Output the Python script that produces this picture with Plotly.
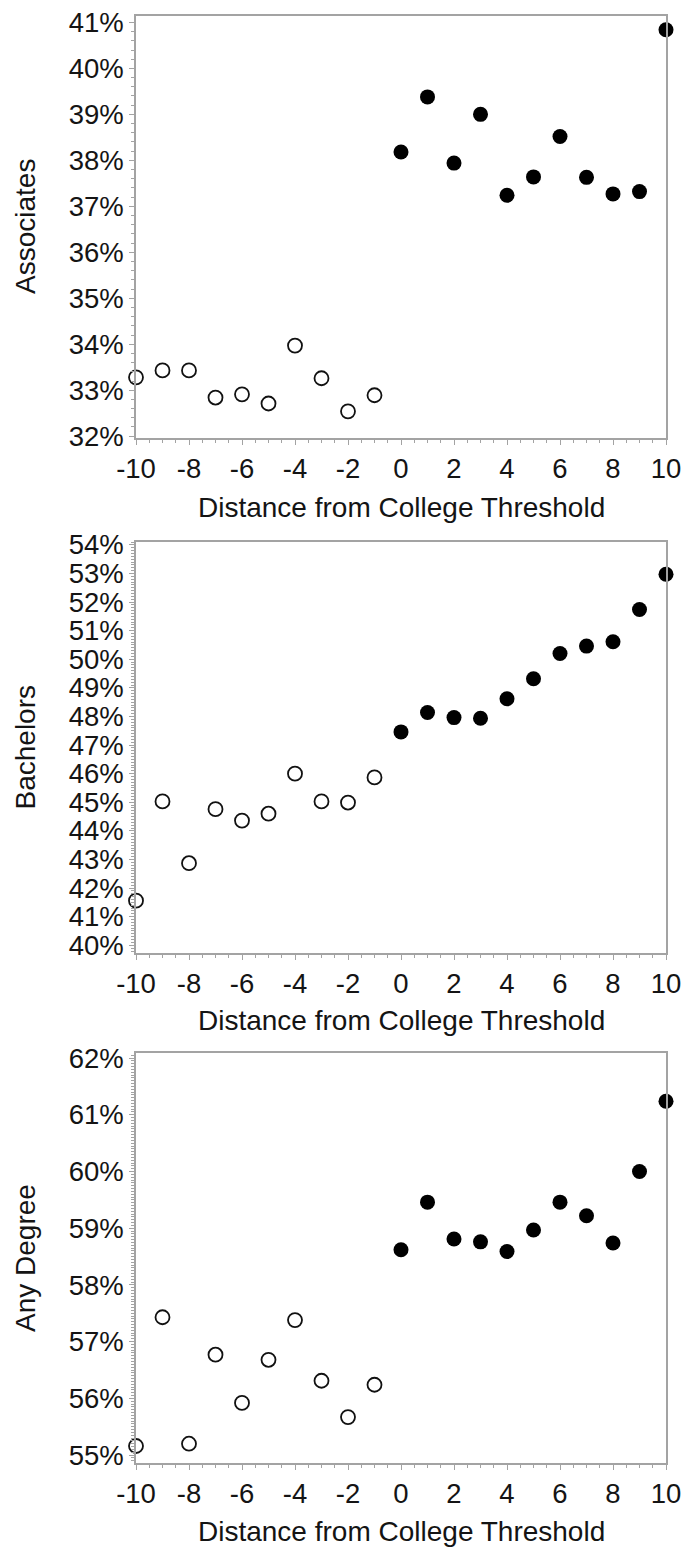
import plotly.graph_objects as go

# ---------------- data ----------------
dist_below = [-10, -9, -8, -7, -6, -5, -4, -3, -2, -1]
dist_above = [0, 1, 2, 3, 4, 5, 6, 7, 8, 9, 10]

assoc_below = [33.28, 33.43, 33.43, 32.84, 32.91, 32.71, 33.97, 33.26, 32.54, 32.89]
assoc_above = [38.18, 39.38, 37.94, 39.0, 37.24, 37.64, 38.52, 37.63, 37.27, 37.32, 40.84]

bach_below = [41.56, 45.03, 42.87, 44.76, 44.36, 44.6, 46.0, 45.03, 44.99, 45.87]
bach_above = [47.46, 48.14, 47.96, 47.94, 48.62, 49.32, 50.2, 50.46, 50.61, 51.74, 52.97]

any_below = [55.16, 57.43, 55.2, 56.77, 55.92, 56.68, 57.38, 56.31, 55.67, 56.24]
any_above = [58.62, 59.46, 58.81, 58.76, 58.59, 58.97, 59.46, 59.22, 58.74, 60.0, 61.24]

y_titles = ["Associates", "Bachelors", "Any Degree"]
x_title = "Distance from College Threshold"
x_ticks = [-10, -8, -6, -4, -2, 0, 2, 4, 6, 8, 10]
x_tick_text = ["-10", "-8", "-6", "-4", "-2", "0", "2", "4", "6", "8", "10"]

panels = [
    (assoc_below, assoc_above, [31.96, 41.14], 0.2),
    (bach_below, bach_above, [39.73, 54.1], 0.1),
    (any_below, any_above, [54.86, 62.09], 0.05),
]

# ---------------- layout geometry (pixels) ----------------
W, H = 681, 1550
x0, x1 = 136, 666
boxes = [(16, 438), (542, 953), (1053, 1463)]
xtitle_y = [507, 1020, 1531]

FONT = "Liberation Sans, Arial, sans-serif"
TXT = "#141414"
GRID = "#a3a3a3"

fig = go.Figure()
layout = dict(
    width=W, height=H, margin=dict(l=0, r=0, t=0, b=0, autoexpand=False),
    paper_bgcolor="white", plot_bgcolor="white", showlegend=False,
    font=dict(family=FONT, color=TXT, size=27),
)
annotations = []

for i, (below, above, yr, minor_dt) in enumerate(panels):
    n = "" if i == 0 else str(i + 1)
    xa, ya = "x" + n, "y" + n
    fig.add_trace(go.Scatter(
        x=dist_below, y=below, mode="markers", xaxis=xa, yaxis=ya,
        cliponaxis=False,
        marker=dict(symbol="circle-open", size=14, color="#111111",
                    line=dict(width=1.8, color="#111111")),
    ))
    fig.add_trace(go.Scatter(
        x=dist_above, y=above, mode="markers", xaxis=xa, yaxis=ya,
        cliponaxis=False,
        marker=dict(symbol="circle", size=15, color="#000000"),
    ))
    top, bot = boxes[i]
    layout["xaxis" + n] = dict(
        domain=[x0 / W, x1 / W], anchor=ya, range=[-10, 10], automargin=False,
        tickmode="array", tickvals=x_ticks, ticktext=x_tick_text,
        ticklabeloverflow="allow",
        ticks="outside", ticklen=5, tickcolor=GRID,
        showline=True, linecolor=GRID, linewidth=1.5, mirror=True,
        showgrid=False, zeroline=False,
        tickfont=dict(family=FONT, size=27.5, color=TXT),
        minor=dict(dtick=0.5, ticks="outside", ticklen=3, tickcolor=GRID, showgrid=False),
    )
    layout["yaxis" + n] = dict(
        domain=[1 - bot / H, 1 - top / H], anchor=xa, range=yr, automargin=False,
        dtick=1, tick0=0, ticksuffix="%", ticks="outside", ticklen=5, tickcolor=GRID,
        ticklabeloverflow="allow",
        showline=True, linecolor=GRID, linewidth=1.5, mirror=True,
        showgrid=False, zeroline=False,
        tickfont=dict(family=FONT, size=27.5, color=TXT),
        minor=dict(dtick=minor_dt, ticks="outside", ticklen=3, tickcolor=GRID, showgrid=False),
    )
    annotations.append(dict(
        text=y_titles[i], xref="paper", yref="paper",
        x=25 / W, y=1 - (top + bot) / 2 / H, textangle=-90,
        showarrow=False, xanchor="center", yanchor="middle",
        font=dict(family=FONT, size=28, color=TXT),
    ))
    annotations.append(dict(
        text=x_title, xref="paper", yref="paper",
        x=(x0 + x1) / 2 / W, y=1 - xtitle_y[i] / H,
        showarrow=False, xanchor="center", yanchor="middle",
        font=dict(family=FONT, size=28, color=TXT),
    ))

layout["annotations"] = annotations
fig.update_layout(**layout)
fig.write_html("out.html")
